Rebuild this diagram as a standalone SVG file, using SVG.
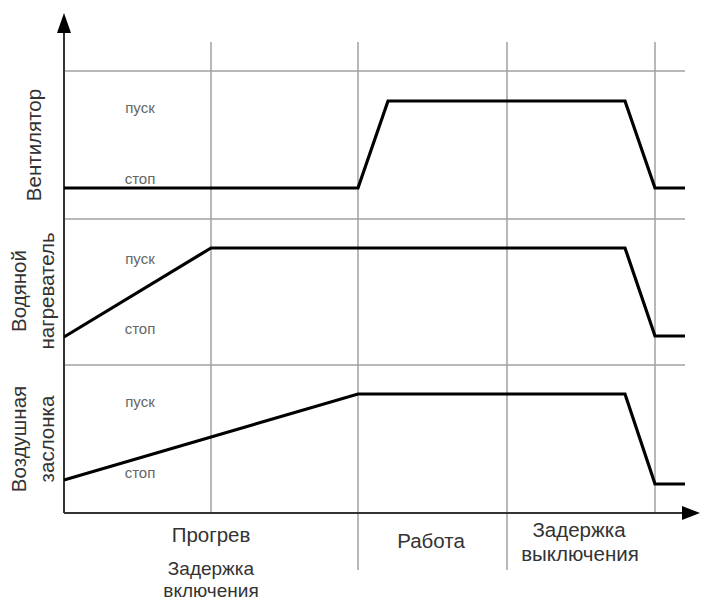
<svg xmlns="http://www.w3.org/2000/svg" width="706" height="603" viewBox="0 0 706 603">
<style>
.grid{stroke:#a0a0a0;stroke-width:1.5;fill:none}
.axis{stroke:#333;stroke-width:2;fill:none}
.sig{stroke:#000;stroke-width:3.2;fill:none;stroke-linejoin:miter}
.st{font-family:"Liberation Sans",Arial,sans-serif;font-size:15px;fill:#666;text-anchor:middle}
.lbl{font-family:"Liberation Sans",Arial,sans-serif;font-size:20.5px;fill:#333;text-anchor:middle}
.sm{font-size:19px}
.vl{font-family:"Liberation Sans",Arial,sans-serif;font-size:20.5px;fill:#333;text-anchor:middle}
</style>
<rect width="706" height="603" fill="#fff"/>
<g id="grid">
<line class="grid" x1="64" y1="71" x2="685" y2="71"/>
<line class="grid" x1="64" y1="219" x2="685" y2="219"/>
<line class="grid" x1="64" y1="365" x2="685" y2="365"/>
<line class="grid" x1="211" y1="42" x2="211" y2="513"/>
<line class="grid" x1="358" y1="42" x2="358" y2="570"/>
<line class="grid" x1="507" y1="42" x2="507" y2="570"/>
<line class="grid" x1="655" y1="42" x2="655" y2="513"/>
</g>
<g id="axes">
<line class="axis" x1="64" y1="513" x2="64" y2="33"/>
<path d="M57,33 L64,13 L71,33 Z" fill="#000"/>
<line class="axis" x1="64" y1="513" x2="682" y2="513"/>
<path d="M682,506 L700,513 L682,520 Z" fill="#000"/>
</g>
<g id="fan">
<text class="vl" transform="translate(41,145) rotate(-90)">Вентилятор</text>
<text class="st" x="140" y="113">пуск</text>
<text class="st" x="140" y="184">стоп</text>
<polyline class="sig" points="64,188 358,188 388,101 625,101 655,188 685,188"/>
</g>
<g id="heater">
<text class="vl" transform="translate(26,291) rotate(-90)">Водяной</text>
<text class="vl" transform="translate(54,291) rotate(-90)">нагреватель</text>
<text class="st" x="140" y="264">пуск</text>
<text class="st" x="140" y="334">стоп</text>
<polyline class="sig" points="64,337 211,248 625,248 655,336 685,336"/>
</g>
<g id="damper">
<text class="vl" transform="translate(26,439) rotate(-90)">Воздушная</text>
<text class="vl" transform="translate(54,439) rotate(-90)">заслонка</text>
<text class="st" x="140" y="407">пуск</text>
<text class="st" x="140" y="478">стоп</text>
<polyline class="sig" points="64,480 358,394 625,394 655,484 685,484"/>
</g>
<g id="phases">
<text class="lbl" x="211" y="542">Прогрев</text>
<text class="lbl sm" x="211" y="575">Задержка</text>
<text class="lbl sm" x="211" y="597">включения</text>
<text class="lbl" x="431" y="548">Работа</text>
<text class="lbl" x="579" y="537">Задержка</text>
<text class="lbl" x="580" y="561">выключения</text>
</g>
</svg>
